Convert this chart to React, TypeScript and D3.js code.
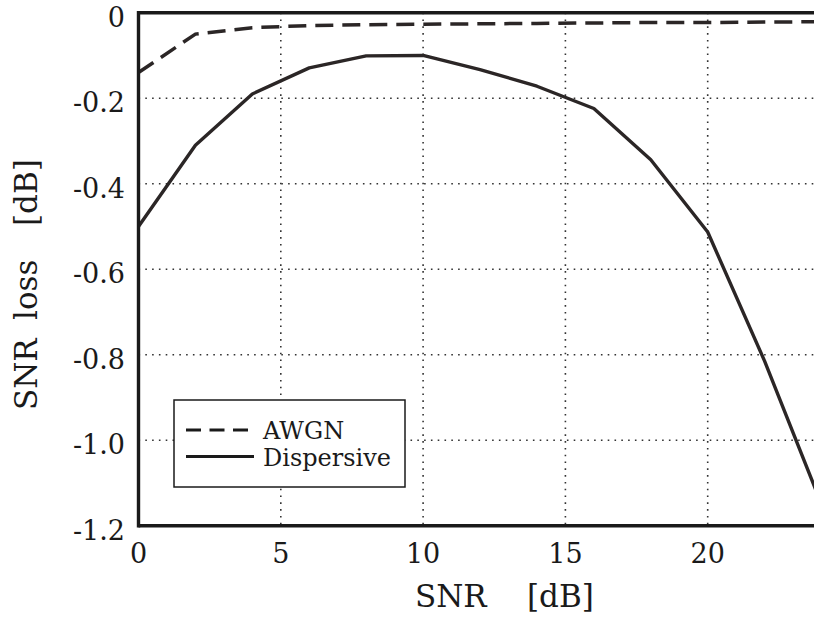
import React from "react";
import * as d3 from "d3";

const snrX = [0, 2, 4, 6, 8, 10, 12, 14, 16, 18, 20, 22, 24];
const awgn = [-0.14, -0.05, -0.035, -0.03, -0.028, -0.027, -0.026, -0.025, -0.024, -0.023, -0.023, -0.022, -0.021];
const dispersive = [-0.5, -0.31, -0.19, -0.129, -0.101, -0.1, -0.133, -0.172, -0.224, -0.344, -0.513, -0.815, -1.15];
const xTicks = [0, 5, 10, 15, 20];
const yTicks = [0, -0.2, -0.4, -0.6, -0.8, -1.0, -1.2];
const yTickLabels = ["0", "-0.2", "-0.4", "-0.6", "-0.8", "-1.0", "-1.2"];
const seriesNames = ["AWGN", "Dispersive"];

const W = 814;
const H = 619;
const FONT = "DejaVu Serif";

export default function App() {
  const x = d3.scaleLinear().domain([0, 24]).range([138.5, 138.5 + 24 * 28.46]);
  const y = d3.scaleLinear().domain([0, -1.2]).range([12.7, 525.7]);
  const line = d3
    .line<[number, number]>()
    .x((d) => x(d[0]))
    .y((d) => y(d[1]));
  const awgnPts: [number, number][] = snrX.map((v, i) => [v, awgn[i]]);
  const dispPts: [number, number][] = snrX.map((v, i) => [v, dispersive[i]]);
  const lineColor = "#2b2626";
  const axisColor = "#1a1a1a";
  const gridColor = "#333";
  const ts = { fontFamily: FONT };

  return (
    <svg
      width={W}
      height={H}
      style={{ position: "absolute", left: 0, top: 0, background: "#fff", fontFamily: FONT }}
    >
      <rect x={0} y={0} width={W} height={H} fill="#fff" />
      {xTicks
        .filter((t) => t !== 0)
        .map((t) => (
          <line
            key={"gx" + t}
            x1={x(t)}
            x2={x(t)}
            y1={y(0)}
            y2={y(-1.2)}
            stroke={gridColor}
            strokeWidth={1.6}
            strokeDasharray="1.6,5.2"
          />
        ))}
      {yTicks
        .filter((t) => t !== 0 && t !== -1.2)
        .map((t) => (
          <line
            key={"gy" + t}
            x1={x(0)}
            x2={W}
            y1={y(t)}
            y2={y(t)}
            stroke={gridColor}
            strokeWidth={1.6}
            strokeDasharray="1.6,5.2"
          />
        ))}
      <path d={line(awgnPts) || ""} fill="none" stroke={lineColor} strokeWidth={3.5} strokeDasharray="18,9" />
      <path d={line(dispPts) || ""} fill="none" stroke={lineColor} strokeWidth={3.4} strokeLinejoin="round" />
      <line x1={x(0)} x2={W} y1={y(0)} y2={y(0)} stroke={axisColor} strokeWidth={3.4} />
      <line x1={x(0)} x2={W} y1={y(-1.2)} y2={y(-1.2)} stroke={axisColor} strokeWidth={3.4} />
      <line x1={x(0)} x2={x(0)} y1={y(0) - 1.7} y2={y(-1.2) + 1.7} stroke={axisColor} strokeWidth={3.4} />
      {yTicks.map((t, i) => (
        <text key={"yl" + t} style={ts} x={125} y={y(t) + 14} textAnchor="end" fontSize={27} fill="#1a1a1a">
          {yTickLabels[i]}
        </text>
      ))}
      {xTicks.map((t) => (
        <text key={"xl" + t} style={ts} x={x(t)} y={563} textAnchor="middle" fontSize={27} fill="#1a1a1a">
          {String(t)}
        </text>
      ))}
      <text style={ts} x={415} y={607} fontSize={31} fill="#1a1a1a">SNR</text>
      <text style={ts} x={527} y={607} fontSize={31} fill="#1a1a1a">[dB]</text>
      <g transform="translate(37,0)">
        <text style={ts} transform="translate(0,410) rotate(-90)" fontSize={31} fill="#1a1a1a">SNR</text>
        <text style={ts} transform="translate(0,320) rotate(-90)" fontSize={31} fill="#1a1a1a">loss</text>
        <text style={ts} transform="translate(0,226) rotate(-90)" fontSize={31} fill="#1a1a1a">[dB]</text>
      </g>
      <rect x={174} y={400} width={231} height={87} fill="#fff" stroke={axisColor} strokeWidth={1.5} />
      <line x1={186} x2={254} y1={430} y2={430} stroke={axisColor} strokeWidth={3.2} strokeDasharray="15,8.5" />
      <line x1={186} x2={254} y1={456.5} y2={456.5} stroke={axisColor} strokeWidth={3.2} />
      <text style={ts} x={263} y={439} fontSize={24} fill="#1a1a1a">{seriesNames[0]}</text>
      <text style={ts} x={263} y={466} fontSize={24} fill="#1a1a1a">{seriesNames[1]}</text>
    </svg>
  );
}
